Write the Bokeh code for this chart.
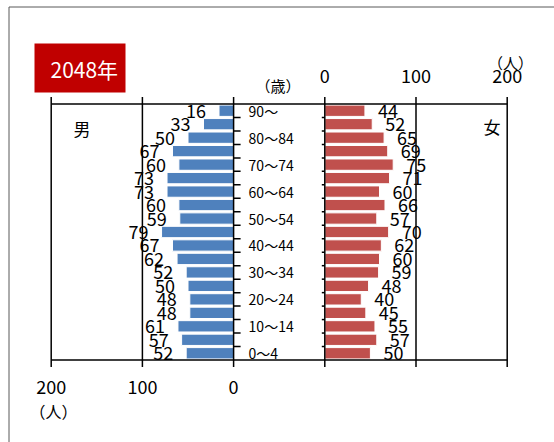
import math
from bokeh.plotting import figure
from bokeh.models import ColumnDataSource, Range1d
from bokeh.core.properties import value
from bokeh.embed import file_html
from bokeh.resources import INLINE

# ---- data ----
age_groups = ["0～4", "5～9", "10～14", "15～19", "20～24", "25～29", "30～34",
              "35～39", "40～44", "45～49", "50～54", "55～59", "60～64",
              "65～69", "70～74", "75～79", "80～84", "85～89", "90～"]
male = [52, 57, 61, 48, 48, 50, 52, 62, 67, 79, 59, 60, 73, 73, 60, 67, 50, 33, 16]
female = [50, 57, 55, 45, 40, 48, 59, 60, 62, 70, 57, 66, 60, 71, 75, 69, 65, 52, 44]
male_ticks = [200, 100, 0]
female_ticks = [0, 100, 200]
title = "2048年"

FONT = "Noto Sans CJK JP"
GAP = 100          # width of the central age-label column (persons units)
BLUE = "#4F81BD"
RED = "#C0504D"

W, H = 554, 442
# plot area (pixels on the canvas)
PL, PR, PT, PB = 50.7, 506.7, 103.5, 359.5

ys = list(range(len(age_groups)))
n = len(ys)
male_zero = -GAP
xmin = male_zero - max(male_ticks)
xmax = max(female_ticks)
ylo, yhi = -0.5, n - 0.5

SX = (PR - PL) / (xmax - xmin)
SY = (PB - PT) / (yhi - ylo)

def dx(px):
    return xmin + (px - PL) / SX

def dy(py):
    return ylo + (PB - py) / SY

p = figure(width=W, height=H, min_border=0,
           x_range=Range1d(dx(0), dx(W)), y_range=Range1d(dy(H), dy(0)),
           x_axis_location=None, y_axis_location=None,
           output_backend="svg", toolbar_location=None, tools="")
p.background_fill_color = "white"
p.border_fill_color = "white"
p.outline_line_color = None
p.grid.visible = False

src_m = ColumnDataSource(dict(y=ys, left=[male_zero - v for v in male],
                              right=[male_zero] * n, lab=[str(v) for v in male]))
src_f = ColumnDataSource(dict(y=ys, left=[0] * n, right=female,
                              lab=[str(v) for v in female]))

# outer chart-area border (top & left edges visible)
p.segment(x0=[dx(8.5)], y0=[dy(6.5)], x1=[dx(W + 5)], y1=[dy(6.5)],
          line_color="#595959", line_width=1)
p.segment(x0=[dx(8.5)], y0=[dy(6.5)], x1=[dx(8.5)], y1=[dy(H + 5)],
          line_color="#595959", line_width=1)

# title box
p.quad(left=[dx(34)], right=[dx(125)], top=[dy(43)], bottom=[dy(92)],
       fill_color="#C00000", line_color=None)
p.text(x=[dx(50)], y=[dy(68)], text=[title], text_align="left",
       text_baseline="middle", text_font=value(FONT), text_font_size="21px",
       text_color="white")

# bars
p.hbar(y="y", left="left", right="right", height=0.84, source=src_m,
       fill_color=BLUE, line_color="white", line_width=1)
p.hbar(y="y", left="left", right="right", height=0.84, source=src_f,
       fill_color=RED, line_color="white", line_width=1)

# frame / grid / axis lines
all_pos = sorted([male_zero - t for t in male_ticks] + list(female_ticks))
p.segment(x0=all_pos, y0=[ylo] * len(all_pos), x1=all_pos, y1=[yhi] * len(all_pos),
          line_color="black", line_width=1.5)
p.segment(x0=[xmin, xmin], y0=[ylo, yhi], x1=[xmax, xmax], y1=[ylo, yhi],
          line_color="black", line_width=1.5)
# value-axis ticks (outward)
p.ray(x=all_pos, y=[yhi] * len(all_pos), length=7, length_units="screen",
      angle=math.pi / 2, line_color="black", line_width=1.5)
p.ray(x=all_pos, y=[ylo] * len(all_pos), length=7, length_units="screen",
      angle=-math.pi / 2, line_color="black", line_width=1.5)
# value-axis tick labels
p.text(x=[male_zero - t for t in male_ticks], y=[ylo] * len(male_ticks),
       text=[str(t) for t in male_ticks], y_offset=26.5,
       text_align="center", text_baseline="middle",
       text_font=value(FONT), text_font_size="18px", text_color="black")
p.text(x=list(female_ticks), y=[yhi] * len(female_ticks),
       text=[str(t) for t in female_ticks], y_offset=-28.5,
       text_align="center", text_baseline="middle",
       text_font=value(FONT), text_font_size="18px", text_color="black")

# category tick marks on the age axis
bounds = [y + 0.5 for y in ys[:-1]]
p.ray(x=[male_zero] * len(bounds), y=bounds, length=7, length_units="screen",
      angle=0, line_color="black", line_width=1.5)
p.ray(x=[0] * len(bounds), y=bounds, length=3, length_units="screen",
      angle=math.pi, line_color="black", line_width=1.5)

# value labels
p.text(x="left", y="y", text="lab", source=src_m, x_offset=-13,
       text_align="right", text_baseline="middle",
       text_font=value(FONT), text_font_size="18px", text_color="black")
p.text(x="right", y="y", text="lab", source=src_f, x_offset=13,
       text_align="left", text_baseline="middle",
       text_font=value(FONT), text_font_size="18px", text_color="black")

# age labels (every other group)
shown = [i for i in ys if i % 2 == 0]
p.text(x=[male_zero] * len(shown), y=shown, text=[age_groups[i] for i in shown],
       x_offset=15, text_align="left", text_baseline="middle",
       text_font=value(FONT), text_font_size="14px", text_color="black")

# other texts
def lab(px, py, text, size):
    p.text(x=[dx(px)], y=[dy(py)], text=[text], text_align="center",
           text_baseline="middle", text_font=value(FONT),
           text_font_size=size, text_color="black")

lab(81.5, 127.5, "男", "17px")
lab(491.5, 125.5, "女", "17px")
lab(277.5, 85, "（歳）", "15px")
lab(510, 62, "（人）", "15px")
lab(53, 410.5, "（人）", "16px")

open("out.html", "w").write(file_html(p, INLINE))
